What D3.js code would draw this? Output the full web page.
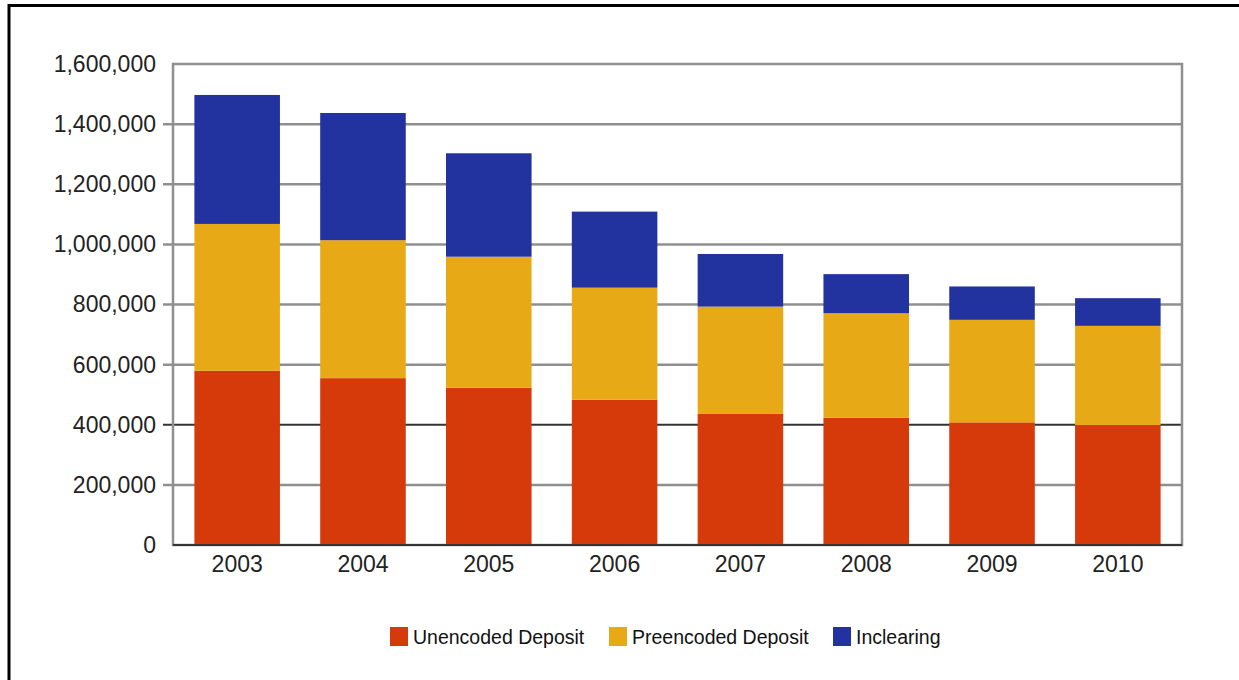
<!DOCTYPE html>
<html>
<head>
<meta charset="utf-8">
<script src="https://cdn.jsdelivr.net/npm/d3@7"></script>
<style>
  body { margin: 0; background: #fff; }
  svg { display: block; font-family: "Liberation Sans", Arial, Helvetica, sans-serif; }
</style>
</head>
<body>
<div id="chart"></div>
<script>
// data
var years = ["2003", "2004", "2005", "2006", "2007", "2008", "2009", "2010"];
var unencoded = [580000, 555000, 523000, 483000, 436000, 423000, 408000, 399000];
var preencoded = [488000, 459000, 436000, 373000, 357000, 348000, 341000, 330000];
var inclearing = [429000, 423000, 344000, 253000, 175000, 130000, 111000, 92000];
var seriesNames = ["Unencoded Deposit", "Preencoded Deposit", "Inclearing"];
var yTicks = [0, 200000, 400000, 600000, 800000, 1000000, 1200000, 1400000, 1600000];

var colors = ["#d63a0a", "#e8a917", "#22329f"];

var W = 1239, H = 680;
var margin = { left: 173, top: 64, right: 57, bottom: 135 };
var width = W - margin.left - margin.right;   // 1009
var height = H - margin.top - margin.bottom;  // 481

var svg = d3.select("#chart").append("svg")
  .attr("width", W)
  .attr("height", H);

// outer frame (only top and left edges show)
svg.append("rect")
  .attr("x", 9)
  .attr("y", 5.5)
  .attr("width", 1400)
  .attr("height", 900)
  .attr("fill", "none")
  .attr("stroke", "#000")
  .attr("stroke-width", 3);

var g = svg.append("g")
  .attr("transform", "translate(" + margin.left + "," + margin.top + ")");

var x = d3.scaleBand()
  .domain(years)
  .range([0, width])
  .paddingInner(0.32)
  .paddingOuter(0.17);

var y = d3.scaleLinear()
  .domain([0, 1600000])
  .range([height, 0]);

// table for the stack
var table = years.map(function (yr, i) {
  return { year: yr, u: unencoded[i], p: preencoded[i], c: inclearing[i] };
});
var stack = d3.stack().keys(["u", "p", "c"]);
var layers = stack(table);

// gridlines
g.selectAll("line.grid")
  .data(yTicks.slice(1, -1))
  .enter()
  .append("line")
  .attr("class", "grid")
  .attr("x1", -10)
  .attr("x2", width)
  .attr("y1", function (d) { return y(d); })
  .attr("y2", function (d) { return y(d); })
  .attr("stroke", function (d) { return d == 400000 ? "#333" : "#8f8f8f"; })
  .attr("stroke-width", function (d) { return d == 400000 ? 2 : 2.5; });

// plot frame
g.append("rect")
  .attr("x", 0)
  .attr("y", y(1600000))
  .attr("width", width)
  .attr("height", height)
  .attr("fill", "none")
  .attr("stroke", "#8f8f8f")
  .attr("stroke-width", 2.5);

// bars
g.selectAll("g.layer")
  .data(layers)
  .enter()
  .append("g")
  .attr("class", "layer")
  .attr("fill", function (d, i) { return colors[i]; })
  .selectAll("rect")
  .data(function (d) { return d; })
  .enter()
  .append("rect")
  .attr("x", function (d) { return x(d.data.year); })
  .attr("width", x.bandwidth())
  .attr("y", function (d) { return y(d[1]); })
  .attr("height", function (d) { return y(d[0]) - y(d[1]); });

// baseline
g.append("line")
  .attr("x1", 0)
  .attr("x2", width)
  .attr("y1", height)
  .attr("y2", height)
  .attr("stroke", "#333")
  .attr("stroke-width", 2);

// y axis labels
var yAxis = d3.axisLeft(y)
  .tickValues(yTicks)
  .tickFormat(d3.format(","))
  .tickSize(0)
  .tickPadding(17);

g.append("g")
  .call(yAxis)
  .call(function (a) { a.select(".domain").remove(); })
  .selectAll("text")
  .attr("font-size", "23px")
  .attr("fill", "#222")
  .style("font-family", "'Liberation Sans', Arial, sans-serif");

// x axis labels
var xAxis = d3.axisBottom(x).tickSize(0).tickPadding(11);

g.append("g")
  .attr("transform", "translate(0," + height + ")")
  .call(xAxis)
  .call(function (a) { a.select(".domain").remove(); })
  .selectAll("text")
  .attr("font-size", "23px")
  .attr("fill", "#222")
  .style("font-family", "'Liberation Sans', Arial, sans-serif");

// legend
var legendX = [390, 609, 833];
var legend = svg.selectAll("g.legend")
  .data(seriesNames)
  .enter()
  .append("g")
  .attr("class", "legend")
  .attr("transform", function (d, i) { return "translate(" + legendX[i] + ",627)"; });

legend.append("rect")
  .attr("width", 18)
  .attr("height", 19)
  .attr("fill", function (d, i) { return colors[i]; });

legend.append("text")
  .attr("x", 23)
  .attr("y", 10)
  .attr("dy", ".35em")
  .attr("font-size", "19.5px")
  .attr("fill", "#111")
  .text(function (d) { return d; });
</script>
</body>
</html>
